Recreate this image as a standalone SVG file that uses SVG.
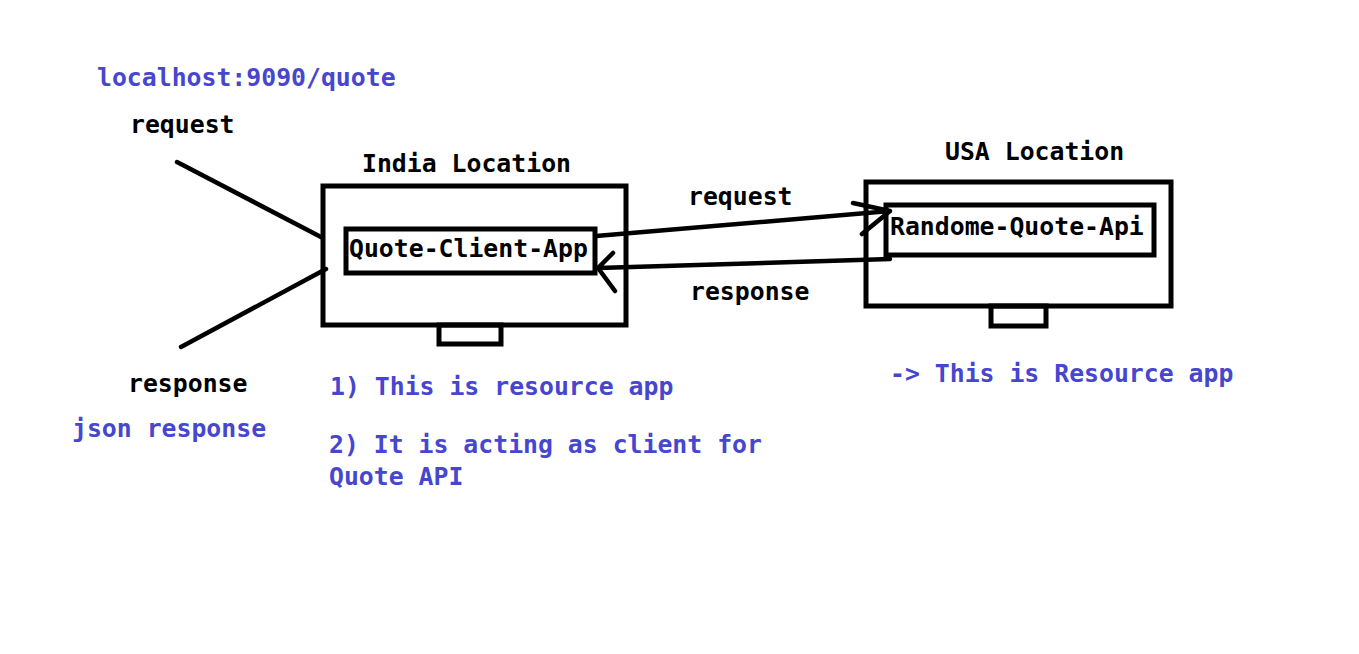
<svg xmlns="http://www.w3.org/2000/svg" width="1359" height="654" viewBox="0 0 1359 654">
<style>
.t{font-family:"DejaVu Sans Mono","Liberation Mono",monospace;font-weight:bold;font-size:24.8px;fill:#000}
.b{fill:#4646cf}
.box{fill:none;stroke:#000;stroke-width:5}
.ln{fill:none;stroke:#000;stroke-width:4.5;stroke-linecap:round;stroke-linejoin:round}
</style>
<rect width="1359" height="654" fill="#fff"/>
<text class="t b" x="97" y="86">localhost:9090/quote</text>
<text class="t" x="130" y="133">request</text>
<text class="t" x="128" y="392">response</text>
<text class="t b" x="72" y="437">json response</text>
<g id="india">
<text class="t" x="362" y="172">India Location</text>
<rect class="box" x="323" y="186" width="303" height="139"/>
<rect class="box" x="439" y="325" width="62" height="19"/>
</g>
<g id="quote-client-app">
<rect class="box" x="346" y="229" width="249" height="44"/>
<text class="t" x="349" y="257">Quote-Client-App</text>
</g>
<g id="usa">
<text class="t" x="945" y="160">USA Location</text>
<rect class="box" x="866" y="182" width="305" height="124"/>
<rect class="box" x="991" y="306" width="55" height="20"/>
</g>
<g id="randome-quote-api">
<rect class="box" x="886" y="205" width="268" height="50"/>
<text class="t" x="890" y="235">Randome-Quote-Api</text>
</g>
<g id="connectors">
<path class="ln" d="M177 162 L321 237"/>
<path class="ln" d="M181 347 L326 269"/>
<path class="ln" d="M596 236 L890 211 M853 203 L890 211 L862 234"/>
<path class="ln" d="M890 259 L598 268 M613 253 L598 268 L615 291"/>
</g>
<text class="t" x="688" y="205">request</text>
<text class="t" x="690" y="300">response</text>
<text class="t b" x="330" y="395">1) This is resource app</text>
<text class="t b" x="329" y="453">2) It is acting as client for</text>
<text class="t b" x="329" y="485">Quote API</text>
<text class="t b" x="890" y="382">-&gt; This is Resource app</text>
</svg>
